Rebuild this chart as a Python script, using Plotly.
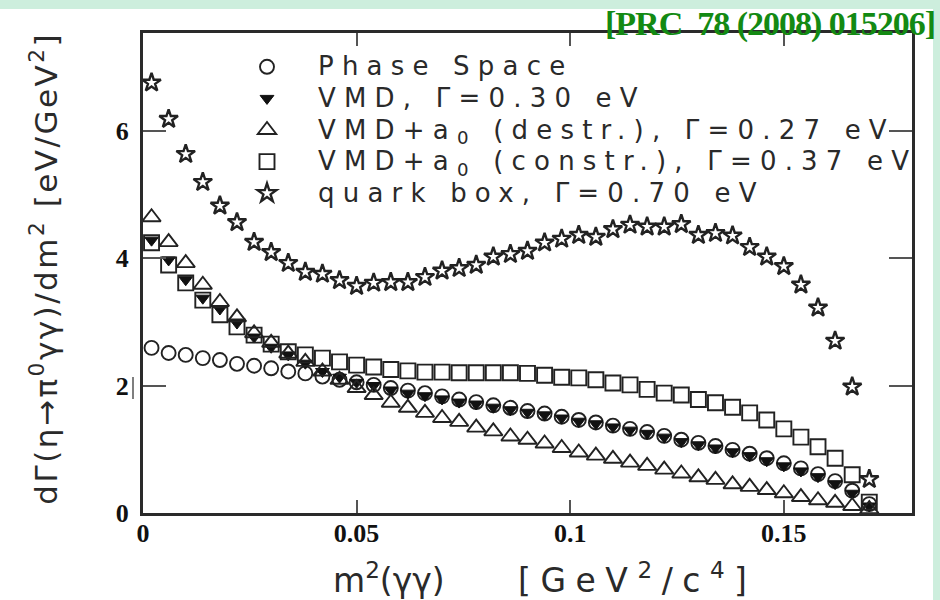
import plotly.graph_objects as go

# m^2(gamma gamma) bin centres [GeV^2/c^4]
m2 = [0.002, 0.006, 0.010, 0.014, 0.018, 0.022, 0.026, 0.030, 0.034, 0.038,
      0.042, 0.046, 0.050, 0.054, 0.058, 0.062, 0.066, 0.070, 0.074, 0.078,
      0.082, 0.086, 0.090, 0.094, 0.098, 0.102, 0.106, 0.110, 0.114, 0.118,
      0.122, 0.126, 0.130, 0.134, 0.138, 0.142, 0.146, 0.150, 0.154, 0.158,
      0.162, 0.166, 0.170]

# dGamma/dm^2 [eV/GeV^2] for each model
phase_space = [2.59, 2.51, 2.48, 2.43, 2.40, 2.34, 2.31, 2.27, 2.22, 2.19,
               2.14, 2.09, 2.05, 2.01, 1.96, 1.92, 1.88, 1.83, 1.78, 1.74,
               1.69, 1.65, 1.60, 1.56, 1.51, 1.46, 1.42, 1.37, 1.32, 1.27,
               1.21, 1.15, 1.10, 1.05, 0.99, 0.93, 0.86, 0.78, 0.70, 0.61,
               0.50, 0.35, 0.14]
vmd = [4.28, 3.97, 3.66, 3.37, 3.20, 2.98, 2.76, 2.60, 2.48, 2.35,
       2.22, 2.13, 2.05, 2.00, 1.93, 1.88, 1.84, 1.79, 1.74, 1.71,
       1.66, 1.62, 1.58, 1.54, 1.49, 1.44, 1.40, 1.35, 1.30, 1.25,
       1.19, 1.12, 1.07, 1.02, 0.96, 0.90, 0.82, 0.74, 0.66, 0.57,
       0.46, 0.31, 0.11]
vmd_a0_destr = [4.64, 4.25, 3.92, 3.58, 3.31, 3.07, 2.82, 2.67, 2.50, 2.37,
                2.22, 2.09, 1.96, 1.85, 1.73, 1.65, 1.57, 1.49, 1.43, 1.34,
                1.28, 1.20, 1.15, 1.09, 1.02, 0.95, 0.90, 0.85, 0.79, 0.74,
                0.68, 0.62, 0.56, 0.52, 0.45, 0.41, 0.36, 0.31, 0.25, 0.20,
                0.16, 0.11, 0.06]
vmd_a0_constr = [4.24, 3.89, 3.61, 3.34, 3.11, 2.92, 2.79, 2.65, 2.53, 2.48,
                 2.43, 2.37, 2.32, 2.29, 2.25, 2.23, 2.21, 2.21, 2.20, 2.20,
                 2.20, 2.20, 2.19, 2.16, 2.13, 2.12, 2.09, 2.04, 2.01, 1.94,
                 1.88, 1.85, 1.78, 1.73, 1.66, 1.57, 1.46, 1.32, 1.19, 1.04,
                 0.86, 0.60, 0.17]
quark_box = [6.75, 6.18, 5.63, 5.19, 4.82, 4.56, 4.25, 4.09, 3.92, 3.78,
             3.75, 3.65, 3.56, 3.61, 3.62, 3.62, 3.70, 3.80, 3.84, 3.89,
             4.02, 4.06, 4.11, 4.24, 4.30, 4.36, 4.33, 4.45, 4.52, 4.49,
             4.49, 4.53, 4.36, 4.39, 4.35, 4.17, 4.02, 3.87, 3.58, 3.22,
             2.70, 1.98, 0.53]

labels = ["Phase Space",
          "VMD, Γ=0.30 eV",
          "VMD+a<sub>0</sub> (destr.), Γ=0.27 eV",
          "VMD+a<sub>0</sub> (constr.), Γ=0.37 eV",
          "quark box, Γ=0.70 eV"]

x_ticks = [0, 0.05, 0.1, 0.15]
y_ticks = [0, 2, 4, 6]

INK = "#222222"
# legend row height follows the legend font size; the names are drawn a bit larger
SPACED = '<span style="letter-spacing:8.2px;font-size:26px">{}</span>'

series = [
    (phase_space, "circle-open", 14, 1.9, INK),
    (vmd, "triangle-down", 12, 1.0, "#111111"),
    (vmd_a0_destr, "triangle-up-open", 16, 1.9, INK),
    (vmd_a0_constr, "square-open", 15, 1.9, INK),
    (quark_box, "star-open", 14, 2.4, INK),
]

fig = go.Figure()
for (vals, sym, size, lw, col), name in zip(series, labels):
    fig.add_trace(go.Scatter(
        x=m2, y=vals, mode="markers", name=SPACED.format(name),
        marker=dict(symbol=sym, size=size, color=col,
                    line=dict(width=lw, color=col)),
    ))

tick_font = dict(family="Liberation Serif", size=26, color="#111111")
axis_common = dict(
    showline=True, linewidth=3, linecolor="#2a2a2a", mirror="allticks",
    ticks="inside", tickcolor="#555555", tickwidth=1.5,
    showgrid=False, zeroline=False, tickfont=tick_font,
)

fig.update_xaxes(range=[0, 0.18], tickvals=x_ticks,
                 ticktext=["<b>%s</b>" % t for t in ["0", "0.05", "0.1", "0.15"]],
                 ticklen=13, ticklabelstandoff=-5, **axis_common)
fig.update_yaxes(range=[0, 7.53], tickvals=y_ticks,
                 ticktext=["<b>%d</b>" % t for t in y_ticks],
                 ticklen=23, ticklabelstandoff=6, **axis_common)

sans = "DejaVu Sans"
NB = "\u00a0"
annotations = [
    # y axis title
    dict(x=-0.128, y=0.51, xref="paper", yref="paper", textangle=-90,
         showarrow=False, xanchor="center", yanchor="middle",
         text='<span style="letter-spacing:2.5px">dΓ(η→π<sup>0</sup>γγ)/dm<sup>2</sup> [eV/GeV<sup>2</sup>]</span>',
         font=dict(family=sans, size=31, color="#2a2a2a")),
    # x axis title
    dict(x=0.522, y=-0.136, xref="paper", yref="paper",
         showarrow=False, xanchor="center", yanchor="middle",
         text='m<sup>2</sup>(γγ)' + NB * 7 +
              '<span style="letter-spacing:9.5px">[GeV<sup>2</sup>/c<sup>4</sup>]</span>',
         font=dict(family=sans, size=33, color="#2a2a2a")),
    # reference tag
    dict(x=1.033, y=1.019, xref="paper", yref="paper",
         showarrow=False, xanchor="right", yanchor="middle",
         text='<b><span style="letter-spacing:-1px">[PRC  78 (2008) 015206]</span></b>',
         font=dict(family="Liberation Serif", size=34, color="#138a13")),
]

shapes = [
    # white page over the mint background, leaving a strip on top and right
    dict(type="rect", xref="paper", yref="paper", layer="below",
         x0=-143 / 769, x1=(933 - 143) / 769, y0=-87 / 480, y1=(513 - 9) / 480,
         fillcolor="white", line=dict(width=0)),
    # small stray mark beside the "2" tick label
    dict(type="line", xref="paper", yref="paper",
         x0=(133 - 143) / 769, x1=(133 - 143) / 769,
         y0=(513 - 399) / 480, y1=(513 - 377) / 480,
         line=dict(color="#555555", width=1.5)),
]

fig.update_layout(
    width=940, height=600,
    margin=dict(l=143, r=28, t=33, b=87),
    paper_bgcolor="#cdeedd", plot_bgcolor="white",
    showlegend=True,
    legend=dict(x=(216 - 143) / 769, y=(513 - 46) / 480, xanchor="left", yanchor="top",
                bgcolor="rgba(0,0,0,0)", borderwidth=0, itemwidth=92,
                font=dict(family=sans, size=22, color="#2a2a2a"),
                tracegroupgap=0),
    annotations=annotations, shapes=shapes,
)

fig.write_html("out.html")
